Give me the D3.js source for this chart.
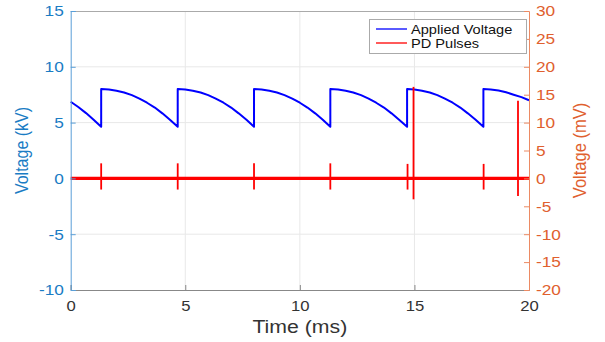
<!DOCTYPE html>
<html><head><meta charset="utf-8">
<script src="https://cdn.jsdelivr.net/npm/d3@7/dist/d3.min.js"></script>
<style>body{margin:0;background:#fff}svg{display:block;font-family:"Liberation Sans",Arial,sans-serif}</style>
</head><body><svg id="c" width="605" height="342"></svg>
<script>
// Applied voltage (kV) vs time (ms)
const vTime = [0,0.33,0.67,1.0,1.33,
  1.33,1.67,2.0,2.33,2.67,3.0,3.33,3.67,4.0,4.33,4.67,
  4.67,5.0,5.33,5.67,6.0,6.33,6.67,7.0,7.33,7.67,8.0,
  8.0,8.33,8.67,9.0,9.33,9.67,10.0,10.33,10.67,11.0,11.33,
  11.33,11.67,12.0,12.33,12.67,13.0,13.33,13.67,14.0,14.33,14.68,
  14.68,15.0,15.33,15.67,16.0,16.33,16.67,17.0,17.33,17.67,18.01,
  18.01,18.33,18.67,19.0,19.33,19.67,20.0];
const vKV = [6.87,6.40,5.85,5.26,4.63,
  8.0,7.97,7.86,7.70,7.46,7.15,6.78,6.35,5.83,5.26,4.63,
  8.0,7.97,7.86,7.70,7.46,7.15,6.78,6.35,5.83,5.26,4.63,
  8.0,7.97,7.86,7.70,7.46,7.15,6.78,6.35,5.83,5.26,4.63,
  8.0,7.97,7.86,7.70,7.46,7.15,6.78,6.35,5.83,5.26,4.63,
  8.0,7.97,7.86,7.70,7.46,7.15,6.78,6.35,5.83,5.26,4.63,
  8.0,7.97,7.88,7.72,7.50,7.28,7.0];
// PD pulses (mV)
const pdTime = [1.33,4.67,8.0,11.33,14.70,14.96,18.02,19.52];
const pdMax  = [2.7,2.7,2.7,2.7,2.6,16.4,2.6,13.9];
const pdMin  = [-2.0,-2.0,-2.0,-2.0,-2.0,-3.75,-2.0,-3.15];
const baseTime = [0,20];
const baseMV = [0,0];
const xTicks = [0,5,10,15,20];
const yLeftTicks = [-10,-5,0,5,10,15];
const yRightTicks = [-20,-15,-10,-5,0,5,10,15,20,25,30];
const legendLabels = ["Applied Voltage","PD Pulses"];

const L=70.7,R=529,T=11,B=290;
const svg=d3.select("#c");
const x=d3.scaleLinear().domain([0,20]).range([L,R]);
const yL=d3.scaleLinear().domain([-10,15]).range([B,T]);
const yR=d3.scaleLinear().domain([-20,30]).range([B,T]);
const fmt=d=>String(d);

// grid
const g=svg.append("g");
g.selectAll(".gx").data(xTicks.slice(1,-1)).join("line")
 .attr("x1",d=>x(d)).attr("x2",d=>x(d)).attr("y1",T).attr("y2",B)
 .attr("stroke","#e8e8e8").attr("stroke-width",1);
g.selectAll(".gy").data(yLeftTicks.slice(1,-1)).join("line")
 .attr("x1",L).attr("x2",R).attr("y1",d=>yL(d)).attr("y2",d=>yL(d))
 .attr("stroke","#e8e8e8").attr("stroke-width",1);
// top box line
svg.append("line").attr("x1",L).attr("x2",R).attr("y1",T+0.5).attr("y2",T+0.5).attr("stroke","#aaa");

// data
const vData=vTime.map((t,i)=>[t,vKV[i]]);
svg.append("path").datum(vData)
 .attr("d",d3.line().x(d=>x(d[0])).y(d=>yL(d[1])))
 .attr("fill","none").attr("stroke","#0000ff").attr("stroke-width",2).attr("stroke-linejoin","round");
const bData=baseTime.map((t,i)=>[t,baseMV[i]]);
svg.append("path").datum(bData)
 .attr("d",d3.line().x(d=>x(d[0])).y(d=>yR(d[1])))
 .attr("fill","none").attr("stroke","#ff0000").attr("stroke-width",3.4);
svg.selectAll(".pd").data(pdTime).join("line")
 .attr("x1",d=>x(d)).attr("x2",d=>x(d))
 .attr("y1",(d,i)=>yR(pdMax[i])).attr("y2",(d,i)=>yR(pdMin[i]))
 .attr("stroke","#ff0000").attr("stroke-width",1.8);

const sx=1.15;
// axes
const ax=svg.append("g").attr("transform",`translate(0,${B})`)
 .call(d3.axisBottom(x).tickValues(xTicks).tickSize(-5).tickPadding(11).tickFormat(fmt));
ax.select(".domain").attr("stroke","#888");
ax.selectAll(".tick line").attr("stroke","#888");
ax.selectAll("text").attr("fill","#333").attr("font-size",14.5)
 .attr("transform",`scale(${sx},1)`);

const al=svg.append("g").attr("transform",`translate(${L},0)`)
 .call(d3.axisLeft(yL).tickValues(yLeftTicks).tickSize(-5).tickPadding(6).tickFormat(fmt));
al.select(".domain").attr("stroke","#5a9fd8");
al.selectAll(".tick line").attr("stroke","#5a9fd8");
al.selectAll("text").attr("fill","#1a7cc4").attr("font-size",15).attr("transform",`scale(${sx},1)`);

const ar=svg.append("g").attr("transform",`translate(${R},0)`)
 .call(d3.axisRight(yR).tickValues(yRightTicks).tickSize(-5).tickPadding(6).tickFormat(fmt));
ar.select(".domain").attr("stroke","#ec8a63");
ar.selectAll(".tick line").attr("stroke","#ec8a63");
ar.selectAll("text").attr("fill","#e0602e").attr("font-size",15).attr("transform",`scale(${sx},1)`);

// titles
svg.append("text").text("Time (ms)").attr("text-anchor","middle").attr("fill","#333")
 .attr("font-size",18.5).attr("transform",`translate(${(L+R)/2},332.5) scale(${sx},1)`);
svg.append("text").text("Voltage (kV)").attr("text-anchor","middle").attr("fill","#1a7cc4")
 .attr("font-size",16).attr("transform",`translate(27.5,${(T+B)/2}) rotate(-90) scale(1,${sx})`);
svg.append("text").text("Voltage (mV)").attr("text-anchor","middle").attr("fill","#e0602e")
 .attr("font-size",16.5).attr("transform",`translate(585.5,${(T+B)/2}) rotate(-90) scale(1,${sx})`);

// legend
const lg=svg.append("g");
lg.append("rect").attr("x",369.5).attr("y",19.5).attr("width",157).attr("height",34)
 .attr("fill","#fff").attr("stroke","#aaa");
const lc=["#0000ff","#ff0000"];
legendLabels.forEach((s,i)=>{
 const yy=29+i*14;
 lg.append("line").attr("x1",376).attr("x2",407).attr("y1",yy).attr("y2",yy).attr("stroke",lc[i]).attr("stroke-width",1.3);
 lg.append("text").text(s).attr("font-size",13.5).attr("fill","#111")
  .attr("transform",`translate(411,${yy+5}) scale(1.08,1)`);
});
</script></body></html>
